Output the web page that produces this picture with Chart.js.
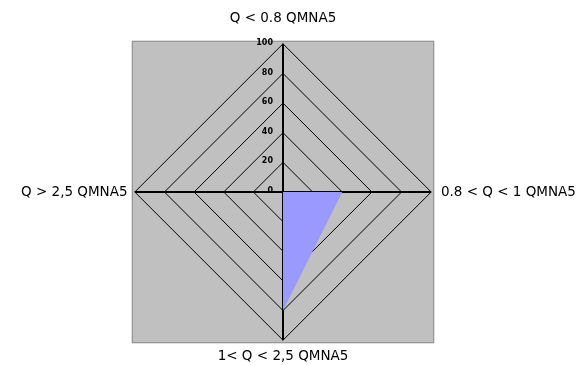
<!DOCTYPE html>
<html>
<head>
<meta charset="utf-8">
<script src="https://cdn.jsdelivr.net/npm/chart.js@4.4.1/dist/chart.umd.min.js"></script>
<style>
  html, body { margin: 0; padding: 0; background: #ffffff; overflow: hidden; width: 580px; height: 365px; }
  /* le canvas deborde un peu pour laisser la place aux etiquettes */
  canvas { display: block; margin-top: -10px; margin-left: -3px; }
</style>
</head>
<body>
<canvas id="myChart" width="600" height="380"></canvas>
<script>
const categories = ["Q < 0.8 QMNA5", "0.8 < Q < 1 QMNA5", "1< Q < 2,5 QMNA5", "Q > 2,5 QMNA5"];
const valeurs = [0, 40, 80, 0];
const graduations = [0, 20, 40, 60, 80, 100];

// fond gris carre autour du radar
const fondGris = {
  id: "fondGris",
  beforeDraw(chart) {
    const s = chart.scales.r;
    const ctx = chart.ctx;
    const r = s.drawingArea + 3;
    ctx.save();
    ctx.fillStyle = "#c0c0c0";
    ctx.fillRect(s.xCenter - r, s.yCenter - r, r * 2, r * 2);
    ctx.strokeStyle = "#8c8c8c";
    ctx.lineWidth = 1;
    ctx.strokeRect(s.xCenter - r + 0.5, s.yCenter - r + 0.5, r * 2 - 1, r * 2 - 1);
    ctx.restore();
  }
};

// les graduations a gauche de l'axe vertical
const etiquettes = {
  id: "etiquettes",
  afterDraw(chart) {
    const s = chart.scales.r;
    const ctx = chart.ctx;
    ctx.save();
    ctx.font = "bold 8px 'DejaVu Sans'";
    ctx.fillStyle = "#000000";
    ctx.textAlign = "right";
    ctx.textBaseline = "middle";
    s.ticks.forEach((t) => {
      const d = s.getDistanceFromCenterForValue(t.value);
      ctx.fillText(String(t.value), s.xCenter - 10, s.yCenter - d - 1);
    });
    ctx.restore();
  }
};

const ctx = document.getElementById("myChart").getContext("2d");
new Chart(ctx, {
  type: "radar",
  data: {
    labels: categories,
    datasets: [
      {
        label: "Debit",
        data: valeurs,
        backgroundColor: "#9999ff",
        borderWidth: 0,
        pointRadius: 0,
        fill: true,
      },
    ],
  },
  options: {
    responsive: false,
    animation: false,
    layout: { padding: { top: 16, bottom: 0, left: 0, right: 0 } },
    plugins: { legend: { display: false }, tooltip: { enabled: false } },
    scales: {
      r: {
        min: graduations[0],
        max: graduations[graduations.length - 1],
        ticks: { stepSize: 20, display: false },
        grid: { color: "#000000", lineWidth: 1 },
        angleLines: { color: "#000000", lineWidth: 2 },
        pointLabels: {
          color: "#000000",
          font: { family: "'DejaVu Sans'", size: 13.5 },
          padding: (c) => [17.6, 9.7, 8.2, 7.3][c.index],
        },
      },
    },
  },
  plugins: [fondGris, etiquettes],
});
</script>
</body>
</html>
